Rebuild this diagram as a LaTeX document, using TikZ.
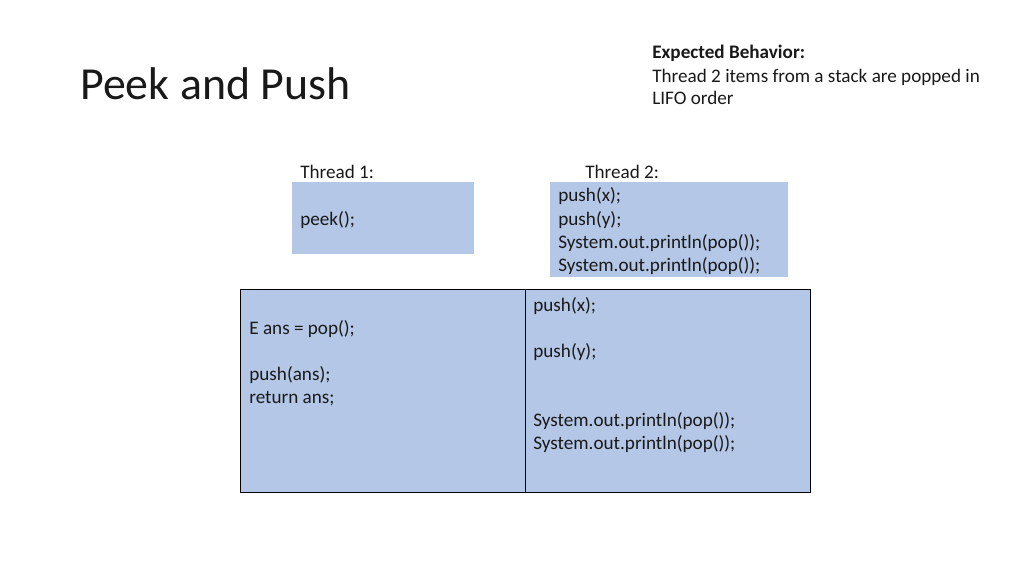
\documentclass[tikz,border=0pt]{standalone}
\usepackage{fontspec}
\setmainfont{Carlito}
\usepackage{tikz}
\usepackage{xcolor}
\definecolor{slideblue}{RGB}{180,199,231}
\definecolor{inkgray}{RGB}{25,25,25}
\tikzset{
  codeline/.style={anchor=base west, inner sep=0pt, text=inkgray,
    font=\fontsize{10.9}{13}\selectfont},
  titleline/.style={anchor=base west, inner sep=0pt, text=inkgray,
    font=\fontsize{26.1}{30}\selectfont}
}

\begin{document}
\begin{tikzpicture}[x=0.02cm, y=-0.02cm]
\useasboundingbox (0,0) rectangle (1024,576);

\node[titleline] (title) at (80,99) {Peek and Push};
\node[codeline, font=\fontsize{10.9}{13}\bfseries] (expect) at (652,58) {Expected Behavior:};
\node[codeline] (expecta) at (652,82) {Thread 2 items from a stack are popped in};
\node[codeline] (expectb) at (652,104) {LIFO order};

% thread 1
\fill [slideblue] (292,182) rectangle (474,254);
\node[codeline] (t1) at (300,178) {Thread 1:};
\node[codeline] (peek) at (300,225) {peek();};

% thread 2
\fill [slideblue] (550,182) rectangle (788,277);
\node[codeline] (t2) at (585,178) {Thread 2:};
\node[codeline] (t2a) at (558,201) {push(x);};
\node[codeline] (t2b) at (558,225) {push(y);};
\node[codeline] (t2c) at (558,248) {System.out.println(pop());};
\node[codeline] (t2d) at (558,271) {System.out.println(pop());};

% interleaving table
\filldraw [fill=slideblue, draw=black, line width=0.5pt] (240,289) rectangle (810,492);
\draw [line width=0.5pt] (525,289) -- (525,492);
\node[codeline] (la) at (249,334) {E ans = pop();};
\node[codeline] (lb) at (249,380) {push(ans);};
\node[codeline] (lc) at (249,403) {return ans;};
\node[codeline] (ra) at (533,311) {push(x);};
\node[codeline] (rb) at (533,357) {push(y);};
\node[codeline] (rc) at (533,426) {System.out.println(pop());};
\node[codeline] (rd) at (533,449) {System.out.println(pop());};
\end{tikzpicture}
\end{document}
